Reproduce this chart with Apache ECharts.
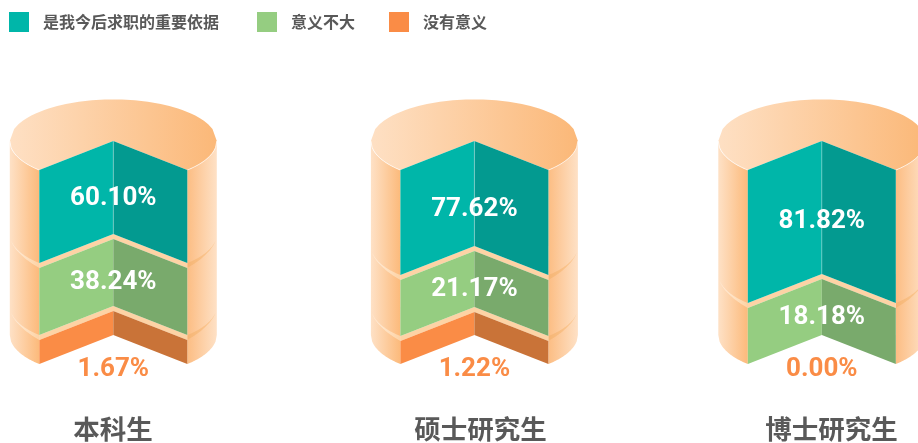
<!DOCTYPE html>
<html>
<head>
<meta charset="utf-8">
<script src="https://cdn.jsdelivr.net/npm/echarts@6/dist/echarts.min.js"></script>
<style>
html, body { margin: 0; padding: 0; background: #fff; }
#chart { width: 918px; height: 443px; }
</style>
</head>
<body>
<div id="chart"></div>
<script>
var categories = ['本科生', '硕士研究生', '博士研究生'];
var seriesNames = ['是我今后求职的重要依据', '意义不大', '没有意义'];

// percentages as printed on the picture
var importantValues = [60.10, 77.62, 81.82];
var smallValues = [38.24, 21.17, 18.18];
var noneValues = [1.67, 1.22, 0.00];

// the picture does not draw the bands in proportion to the percentages,
// so the drawn heights are read off separately (axis units)
var importantHeights = [93, 105, 133];
var smallHeights = [67, 56, 56];
var noneHeights = [24, 23, 0];
var axisMax = 194;

var RX = 103.5, RY = 41.6, NOTCH_X = 74, NOTCH_Y = 29, GAP = 5;
var centers = [113.3, 474.4, 821.8];
var titleCenters = [113, 480.5, 831.5];
var legendLefts = [9, 257, 389];

var levels = [
	{ name: seriesNames[2], values: noneValues, heights: noneHeights, left: '#fa8c46', right: '#c97338', nudge: [5, 5, 5] },
	{ name: seriesNames[1], values: smallValues, heights: smallHeights, left: '#95cd81', right: '#79aa6c', nudge: [-4.5, -4, -4] },
	{ name: seriesNames[0], values: importantValues, heights: importantHeights, left: '#00b6a9', right: '#039a90', nudge: [-4, 1, -0.5] }
];

function bandsOf(k) {
	var bands = [];
	var start = 0;
	for (var i = 0; i < levels.length; i++) {
		var h = levels[i].heights[k];
		bands.push([start, start + h]);
		if (h > 0) {
			start = start + h + GAP;
		}
	}
	return bands;
}

function grad(stops) {
	return new echarts.graphic.LinearGradient(0, 0, 1, 0, stops);
}

// y on the front arc of the cylinder at a horizontal distance dx from the axis
function arcY(y0, dx) {
	return y0 + RY * Math.sqrt(Math.max(0, 1 - dx * dx / (RX * RX)));
}

function arcPoints(cx, y0, from, to) {
	var pts = [];
	for (var i = 0; i <= 24; i++) {
		var dx = from + (to - from) * i / 24;
		pts.push([cx + dx, arcY(y0, dx)]);
	}
	return pts;
}

function wallPieces(cx, yTop, yBottom, leftStops, rightStops) {
	var out = [];
	var sides = [[-RX, -NOTCH_X, leftStops], [NOTCH_X, RX, rightStops]];
	for (var i = 0; i < sides.length; i++) {
		var top = arcPoints(cx, yTop, sides[i][0], sides[i][1]);
		var bottom = arcPoints(cx, yBottom, sides[i][1], sides[i][0]);
		out.push({
			type: 'polygon',
			shape: { points: top.concat(bottom) },
			style: { fill: grad(sides[i][2]) }
		});
	}
	return out;
}

// crescent on the wall where a layer sits on the next one: no thickness at the
// outer edge, full ledge thickness at the notch
function crescent(cx, y0, from, to, stops) {
	var upper = arcPoints(cx, y0, from, to);
	var lower = [];
	for (var i = upper.length - 1; i >= 0; i--) {
		var t = (RX - Math.abs(upper[i][0] - cx)) / (RX - NOTCH_X);
		lower.push([upper[i][0], upper[i][1] + GAP * t]);
	}
	return {
		type: 'polygon',
		shape: { points: upper.concat(lower) },
		style: { fill: grad(stops) }
	};
}

function renderShell(k) {
	return function (params, api) {
		var bands = bandsOf(k).filter(function (b) { return b[1] > b[0]; });
		var cx = api.coord([0, 0])[0];
		var wallL = [{ offset: 0, color: '#fee1c6' }, { offset: 1, color: '#fcba7b' }];
		var wallR = [{ offset: 0, color: '#fcbd83' }, { offset: 1, color: '#fee1c6' }];
		var ringL = [{ offset: 0, color: '#fff1e3' }, { offset: 1, color: '#fdd3a5' }];
		var ringR = [{ offset: 0, color: '#f6b574' }, { offset: 1, color: '#fccb98' }];

		var topBand = bands[bands.length - 1];
		var corner = api.coord([0, topBand[1]])[1];
		var y0 = corner - NOTCH_Y;
		var yEnd = api.coord([0, bands[0][0]])[1] - NOTCH_Y;
		var children = wallPieces(cx, y0, yEnd, wallL, wallR);

		for (var i = 1; i < bands.length; i++) {
			var c1 = api.coord([0, bands[i][0]])[1];
			var c2 = api.coord([0, bands[i - 1][1]])[1];
			children.push(crescent(cx, c1 - NOTCH_Y, -RX, -NOTCH_X, ringL));
			children.push(crescent(cx, c1 - NOTCH_Y, NOTCH_X, RX, ringR));
			// peach ledge showing in the notch
			children.push({
				type: 'polygon',
				shape: { points: [
					[cx - NOTCH_X, c1], [cx, c1 - NOTCH_Y], [cx + NOTCH_X, c1],
					[cx + NOTCH_X, c2], [cx, c2 - NOTCH_Y], [cx - NOTCH_X, c2]
				] },
				style: { fill: '#fdd3a5' }
			});
		}

		// top face, with the wedge cut out of the front
		var pts = [[cx, corner - NOTCH_Y]];
		pts = pts.concat(arcPoints(cx, y0, -NOTCH_X, -RX));
		for (var a = 0; a <= 48; a++) {
			var dx = -RX + 2 * RX * a / 48;
			pts.push([cx + dx, 2 * y0 - arcY(y0, dx)]);
		}
		pts = pts.concat(arcPoints(cx, y0, RX, NOTCH_X));
		children.push({
			type: 'polygon',
			shape: { points: pts },
			style: { fill: grad([{ offset: 0, color: '#fee0c4' }, { offset: 1, color: '#fbb878' }]) }
		});
		// thin light edges where top face meets the walls
		children.push({
			type: 'polyline',
			shape: { points: arcPoints(cx, y0, -RX, -NOTCH_X) },
			style: { stroke: 'rgba(255,255,255,0.7)', lineWidth: 1, fill: 'none' }
		});
		children.push({
			type: 'polyline',
			shape: { points: arcPoints(cx, y0, NOTCH_X, RX) },
			style: { stroke: 'rgba(255,255,255,0.7)', lineWidth: 1, fill: 'none' }
		});
		return { type: 'group', children: children };
	};
}

function renderBand(levelIndex, k) {
	return function (params, api) {
		var start = api.value(1);
		var end = api.value(2);
		var bottom = api.coord([api.value(0), start]);
		var top = api.coord([api.value(0), end]);
		var cx = top[0];
		var level = levels[levelIndex];
		var label = api.value(3).toFixed(2) + '%';
		var children = [];
		if (end > start) {
			children.push({
				type: 'polygon',
				shape: { points: [[cx - NOTCH_X, top[1]], [cx, top[1] - NOTCH_Y], [cx, bottom[1] - NOTCH_Y], [cx - NOTCH_X, bottom[1]]] },
				style: { fill: level.left }
			});
			children.push({
				type: 'polygon',
				shape: { points: [[cx + NOTCH_X, top[1]], [cx, top[1] - NOTCH_Y], [cx, bottom[1] - NOTCH_Y], [cx + NOTCH_X, bottom[1]]] },
				style: { fill: level.right }
			});
		}
		if (levelIndex === 2) {
			children.push({
				type: 'line',
				shape: { x1: cx, y1: top[1] - NOTCH_Y, x2: cx, y2: bottom[1] - NOTCH_Y },
				style: { stroke: 'rgba(255,255,255,0.3)', lineWidth: 1 }
			});
		}
		var textY = levelIndex === 0 ? bottom[1] : (top[1] - NOTCH_Y + bottom[1]) / 2;
		children.push({
			type: 'text',
			z2: 10,
			style: {
				text: label,
				x: cx,
				y: textY + level.nudge[k],
				align: 'center',
				verticalAlign: 'middle',
				fill: levelIndex === 0 ? '#fa8c46' : '#ffffff',
				fontFamily: 'Roboto',
				fontWeight: 'bold',
				fontSize: 26
			}
		});
		return { type: 'group', children: children };
	};
}

var grids = [], xAxes = [], yAxes = [], series = [], titles = [], legends = [];
for (var k = 0; k < categories.length; k++) {
	grids.push({ left: centers[k] - RX, width: 2 * RX, top: 170, height: 194, outerBoundsMode: 'none' });
	xAxes.push({ type: 'category', gridIndex: k, data: [categories[k]], show: false });
	yAxes.push({ type: 'value', gridIndex: k, min: 0, max: axisMax, show: false });
	titles.push({
		text: categories[k],
		left: titleCenters[k],
		top: 416,
		textAlign: 'center',
		padding: 0,
		textStyle: { color: '#595959', fontFamily: 'Noto Sans CJK SC', fontWeight: 'bold', fontSize: 26.5 }
	});
	series.push({
		type: 'custom',
		name: 'shell' + k,
		xAxisIndex: k,
		yAxisIndex: k,
		silent: true,
		renderItem: renderShell(k),
		data: [[0, axisMax]],
		encode: { x: 0, y: 1 }
	});
	var bands = bandsOf(k);
	for (var j = 0; j < levels.length; j++) {
		series.push({
			type: 'custom',
			name: levels[j].name,
			xAxisIndex: k,
			yAxisIndex: k,
			itemStyle: { color: levels[j].left },
			renderItem: renderBand(j, k),
			data: [[0, bands[j][0], bands[j][1], levels[j].values[k]]],
			encode: { x: 0, y: [1, 2] }
		});
	}
}

for (var n = 0; n < seriesNames.length; n++) {
	legends.push({
		data: [seriesNames[n]],
		left: legendLefts[n],
		top: 12,
		padding: 0,
		itemWidth: 20,
		itemHeight: 20,
		icon: 'rect',
		selectedMode: false,
		textStyle: { color: '#595959', fontFamily: 'Noto Sans CJK SC', fontWeight: 'bold', fontSize: 16, padding: [0, 0, 0, 9] }
	});
}

var myChart = echarts.init(document.getElementById('chart'), null, { renderer: 'canvas' });
myChart.setOption({
	animation: false,
	backgroundColor: '#ffffff',
	title: titles,
	legend: legends,
	grid: grids,
	xAxis: xAxes,
	yAxis: yAxes,
	series: series
});
</script>
</body>
</html>
